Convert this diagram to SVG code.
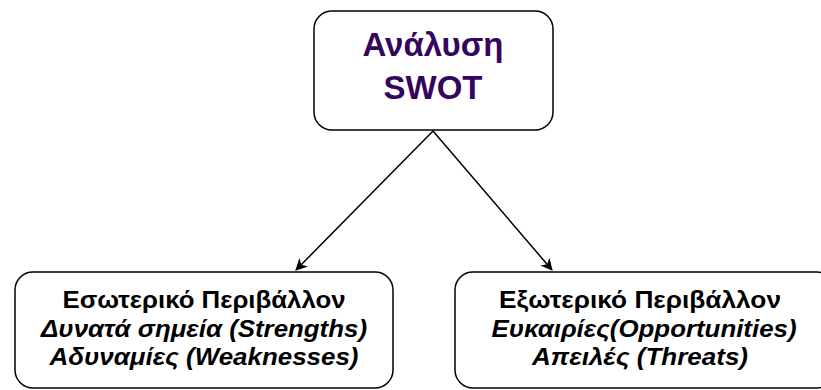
<svg xmlns="http://www.w3.org/2000/svg" width="821" height="390" viewBox="0 0 821 390">
<style>
.box{fill:#fff;stroke:#000;stroke-width:1.5}
.t{font-family:"Liberation Sans",Arial,sans-serif;text-anchor:middle}
.title{font-size:33px;font-weight:bold;fill:#36065f}
.sub{font-size:24px;font-weight:bold;fill:#000}
.it{font-style:italic}
.edge{stroke:#000;stroke-width:1.5;fill:none}
</style>
<defs>
<marker id="arr" viewBox="0 0 12 12" refX="11" refY="6" markerWidth="12" markerHeight="12" markerUnits="userSpaceOnUse" orient="auto">
<path d="M0,0 L12,6 L0,12 L3.5,6 Z" fill="#000"/>
</marker>
</defs>
<rect width="821" height="390" fill="#fff"/>
<g id="connectors">
<line class="edge" x1="433" y1="131" x2="296" y2="270" marker-end="url(#arr)"/>
<line class="edge" x1="433" y1="131" x2="552" y2="270" marker-end="url(#arr)"/>
</g>
<g id="swot">
<rect class="box" x="314" y="11" width="239" height="119" rx="18"/>
<text class="t title" x="433" y="56">Ανάλυση</text>
<text class="t title" x="433" y="99">SWOT</text>
</g>
<g id="internal">
<rect class="box" x="15" y="272" width="378" height="116" rx="18"/>
<text class="t sub" x="204" y="308" textLength="283" lengthAdjust="spacingAndGlyphs">Εσωτερικό Περιβάλλον</text>
<text class="t sub it" x="204" y="337" textLength="326" lengthAdjust="spacingAndGlyphs">Δυνατά σημεία (Strengths)</text>
<text class="t sub it" x="204" y="365" textLength="309" lengthAdjust="spacingAndGlyphs">Αδυναμίες (Weaknesses)</text>
</g>
<g id="external">
<rect class="box" x="455" y="272" width="380" height="116" rx="18"/>
<text class="t sub" x="640" y="308" textLength="282" lengthAdjust="spacingAndGlyphs">Εξωτερικό Περιβάλλον</text>
<text class="t sub it" x="644" y="337" textLength="305" lengthAdjust="spacingAndGlyphs">Ευκαιρίες(Opportunities)</text>
<text class="t sub it" x="640" y="365" textLength="216" lengthAdjust="spacingAndGlyphs">Απειλές (Threats)</text>
</g>
</svg>
